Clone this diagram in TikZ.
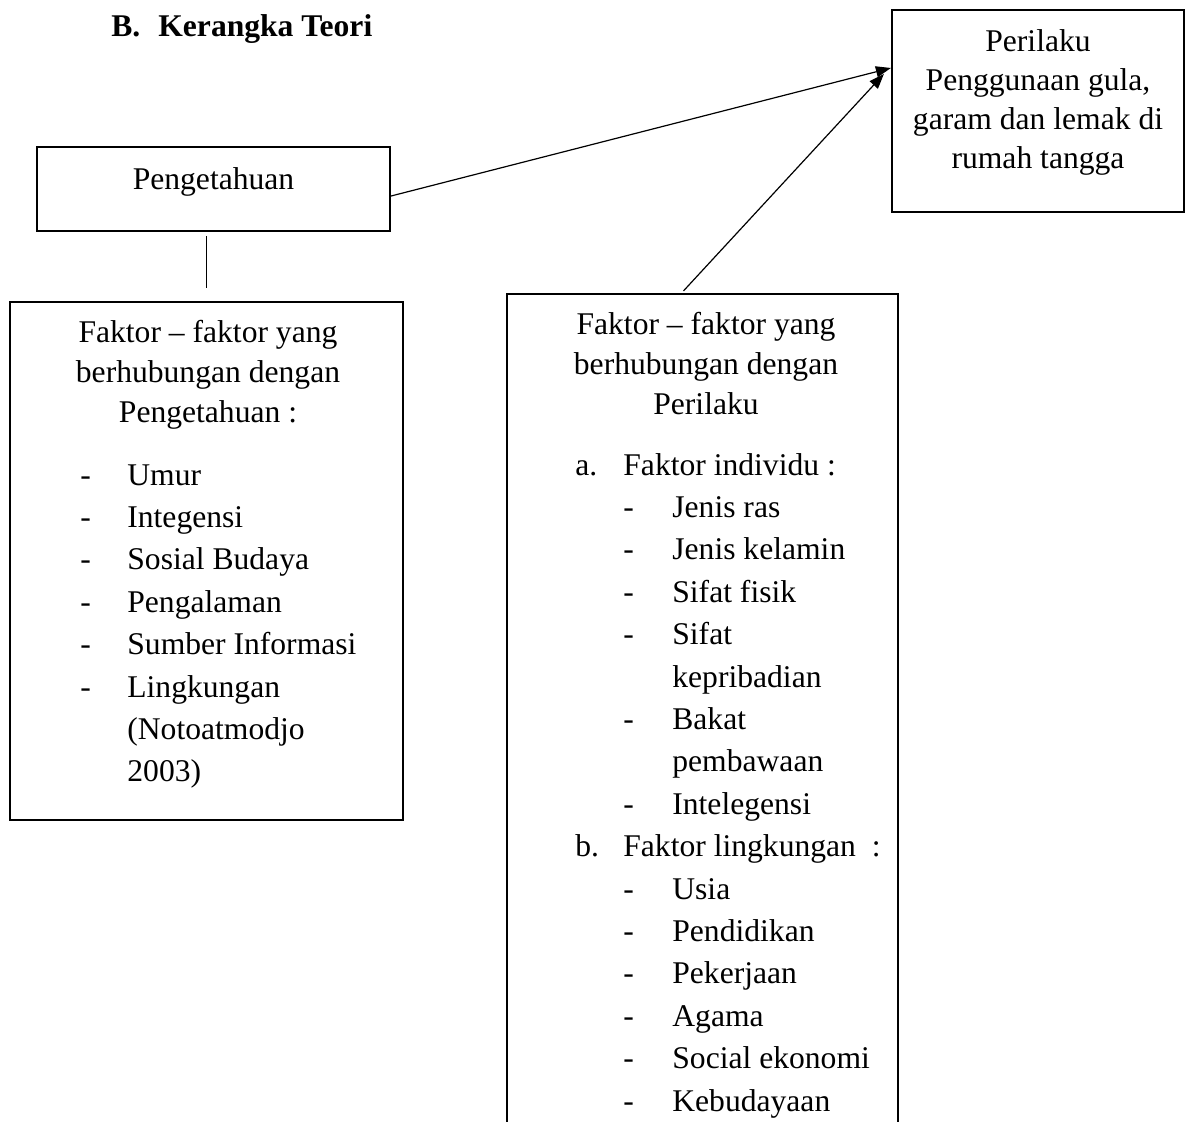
\documentclass[tikz,border=0pt]{standalone}
\usepackage{fontspec}
\setmainfont{Liberation Serif}
\usetikzlibrary{arrows.meta,positioning}
\tikzset{
  kotak/.style={draw, line width=1.1pt, inner sep=0pt},
  teks/.style={inner sep=0pt, font=\fontsize{15.8}{20}\selectfont},
  daftar/.style={inner sep=0pt, font=\fontsize{15.8}{21.2}\selectfont},
  panah/.style={-{Triangle[length=7.5pt,width=5.5pt]}, line width=0.6pt},
  garis/.style={line width=0.6pt}
}
\begin{document}
\begin{tikzpicture}[x=0.5pt,y=-0.5pt]
	\useasboundingbox (0,0) rectangle (1187,1122);
	\clip (0,0) rectangle (1187,1122);
	
	% judul
	\node [teks, anchor=base west, font=\fontsize{15.8}{20}\selectfont\bfseries] (judul) at (111,37) {B.\hspace{9pt}Kerangka Teori};
	
	% kotak
	\node [kotak, minimum width=176.5pt, text height=21.5pt, text depth=20.5pt, font=\fontsize{15.8}{20}\selectfont] (peng) at (213.5,189) {Pengetahuan};
	\node [kotak, minimum width=146pt, text height=21pt, text depth=80pt, font=\fontsize{15.8}{19.5}\selectfont] (hasil) at (1038,111)
	{\begin{tabular}[t]{@{}c@{}}Perilaku\\Penggunaan gula,\\garam dan lemak di\\rumah tangga\end{tabular}};
	\node [kotak, minimum width=196.5pt, minimum height=259pt] (fakP) at (206.5,561) {};
	\node [kotak, minimum width=195.5pt, minimum height=428pt] (fakB) at (702.5,722) {};
	
	% isi kotak faktor
	\node [teks, anchor=base] (fakPjudul) at (208,343)
	{\begin{tabular}[t]{@{}c@{}}Faktor -- faktor yang\\berhubungan dengan\\Pengetahuan :\end{tabular}};
	\node [daftar, anchor=base west] (fakPisi) at (80,485)
	{\begin{tabular}[t]{@{}p{23.5pt}@{}l@{}}
		- & Umur\\
		- & Integensi\\
		- & Sosial Budaya\\
		- & Pengalaman\\
		- & Sumber Informasi\\
		- & Lingkungan\\
		  & (Notoatmodjo\\
		  & 2003)
	\end{tabular}};
	\node [teks, anchor=base] (fakBjudul) at (706,335)
	{\begin{tabular}[t]{@{}c@{}}Faktor -- faktor yang\\berhubungan dengan\\Perilaku\end{tabular}};
	\node [daftar, anchor=base west] (fakBisi) at (575,475)
	{\begin{tabular}[t]{@{}p{24pt}@{}p{24.5pt}@{}l@{}}
		a. & \multicolumn{2}{@{}l@{}}{Faktor individu :}\\
		   & - & Jenis ras\\
		   & - & Jenis kelamin\\
		   & - & Sifat fisik\\
		   & - & Sifat\\
		   &   & kepribadian\\
		   & - & Bakat\\
		   &   & pembawaan\\
		   & - & Intelegensi\\
		b. & \multicolumn{2}{@{}l@{}}{Faktor lingkungan\ \ :}\\
		   & - & Usia\\
		   & - & Pendidikan\\
		   & - & Pekerjaan\\
		   & - & Agama\\
		   & - & Social ekonomi\\
		   & - & Kebudayaan
	\end{tabular}};
	
	\draw[garis, shorten <=2pt, shorten >=6.5pt]
	(fakP.north |- peng.south) -- (fakP.north);
	\draw[panah]
	([yshift=-3.5pt]peng.east) -- ([yshift=21.5pt]hasil.west);
	\draw[panah]
	([xshift=-9.5pt,yshift=1pt]fakB.north) -- ([xshift=-3.5pt,yshift=18.5pt]hasil.west);
	
\end{tikzpicture}
\end{document}
